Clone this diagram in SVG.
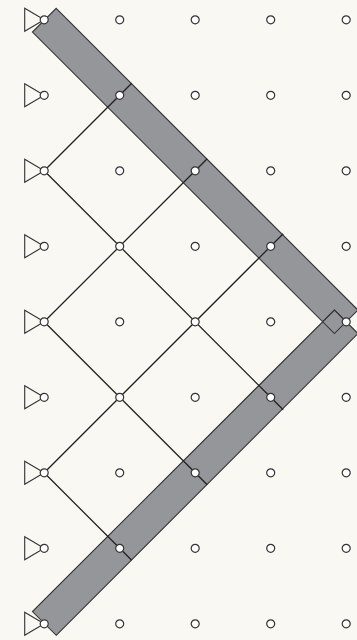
<svg xmlns="http://www.w3.org/2000/svg" width="357" height="640" viewBox="0 0 357 640">
<style>
.band{fill:#95969a;stroke:#333;stroke-width:1.1}
.link{fill:none;stroke:#222;stroke-width:1.3}
.tri{fill:#f9f8f2;stroke:#333;stroke-width:1.1}
.dot{fill:#fff;stroke:#333;stroke-width:1.2}
</style>
<defs>
<circle id="n" r="4" class="dot"/>
<g id="s"><path class="tri" d="M24.5 -11.5V11.5L44 0Z"/><circle cx="44" r="4" class="dot"/></g>
</defs>
<rect width="357" height="640" fill="#f9f8f2"/>
<g transform="translate(0.2 0.3)">
<g id="bands">
<path class="band" d="M56 8L357.75 309.75L334.25 333.25L32.25 31.75Z"/>
<path class="band" d="M56 635L357.75 333.25L334.25 309.75L32.25 611.25Z"/>
<path class="band" d="M334.25 309.75L346 321.5L334.25 333.25L322.5 321.5Z"/>
</g>
<g id="connectors">
<path class="link" d="M44 170.5L131.5 83M44 321.5L207 158.5M44 472.5L283 233.5M44 170.5L283 409.5M44 321.5L207 484.5M44 472.5L131.5 560"/>
</g>
<g id="nodes">
<use href="#s" y="19.5"/><use href="#s" y="95"/><use href="#s" y="170.5"/><use href="#s" y="246"/><use href="#s" y="321.5"/><use href="#s" y="397"/><use href="#s" y="472.5"/><use href="#s" y="548"/><use href="#s" y="623.5"/>
<use href="#n" x="119.5" y="19.5"/><use href="#n" x="195" y="19.5"/><use href="#n" x="270.5" y="19.5"/><use href="#n" x="346" y="19.5"/>
<use href="#n" x="119.5" y="95"/><use href="#n" x="195" y="95"/><use href="#n" x="270.5" y="95"/><use href="#n" x="346" y="95"/>
<use href="#n" x="119.5" y="170.5"/><use href="#n" x="195" y="170.5"/><use href="#n" x="270.5" y="170.5"/><use href="#n" x="346" y="170.5"/>
<use href="#n" x="119.5" y="246"/><use href="#n" x="195" y="246"/><use href="#n" x="270.5" y="246"/><use href="#n" x="346" y="246"/>
<use href="#n" x="119.5" y="321.5"/><use href="#n" x="195" y="321.5"/><use href="#n" x="270.5" y="321.5"/><use href="#n" x="346" y="321.5"/>
<use href="#n" x="119.5" y="397"/><use href="#n" x="195" y="397"/><use href="#n" x="270.5" y="397"/><use href="#n" x="346" y="397"/>
<use href="#n" x="119.5" y="472.5"/><use href="#n" x="195" y="472.5"/><use href="#n" x="270.5" y="472.5"/><use href="#n" x="346" y="472.5"/>
<use href="#n" x="119.5" y="548"/><use href="#n" x="195" y="548"/><use href="#n" x="270.5" y="548"/><use href="#n" x="346" y="548"/>
<use href="#n" x="119.5" y="623.5"/><use href="#n" x="195" y="623.5"/><use href="#n" x="270.5" y="623.5"/><use href="#n" x="346" y="623.5"/>
</g>
</g>
</svg>
